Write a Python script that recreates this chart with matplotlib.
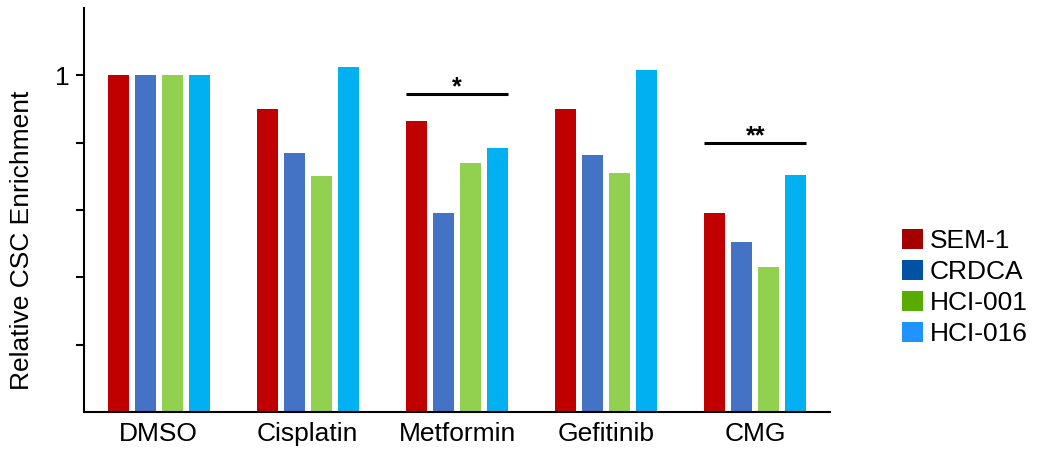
import matplotlib
matplotlib.use("Agg")
import matplotlib.pyplot as plt
from matplotlib.patches import Patch
import numpy as np

treatments = ["DMSO", "Cisplatin", "Metformin", "Gefitinib", "CMG"]
lines = ["SEM-1", "CRDCA", "HCI-001", "HCI-016"]

# relative CSC enrichment per cell line, normalised to DMSO
sem1 = [1.0, 0.90, 0.865, 0.90, 0.59]
crdca = [1.0, 0.77, 0.59, 0.765, 0.505]
hci001 = [1.0, 0.70, 0.74, 0.71, 0.43]
hci016 = [1.0, 1.025, 0.785, 1.015, 0.705]

bar_colors = ["#c00000", "#4472c4", "#92d050", "#00b0f0"]
legend_colors = ["#a50000", "#0052a5", "#5aab00", "#1f93ff"]

# significance brackets: (treatment index, bar height, label)
sig_marks = [(2, 0.946, "*"), (4, 0.80, "**")]

def plot_enrichment():
    plt.rcParams['font.family'] = ['Liberation Sans', 'DejaVu Sans']
    fig = plt.figure(figsize=(10.37, 4.53), dpi=100)
    ax = fig.add_axes([0.081, 0.0905, 0.7194, 0.8915])

    x = np.arange(len(treatments))
    pitch = 0.181
    width = 0.141
    series = [sem1, crdca, hci001, hci016]
    for i, (vals, col) in enumerate(zip(series, bar_colors)):
        ax.bar(x + (i - 1.5) * pitch, vals, width, color=col, edgecolor='none')

    # brackets span the outer edges of the group
    for idx, h, label in sig_marks:
        x0 = idx - 1.5 * pitch - width / 2
        x1 = idx + 1.5 * pitch + width / 2
        ax.plot([x0, x1], [h, h], color='black', linewidth=2.2, solid_capstyle='butt')
        ax.text(idx, h - 0.003, label, ha='center', va='baseline',
                fontsize=18, fontweight='bold')

    ax.set_xlim(-0.5, 4.5)
    ax.set_ylim(0, 1.2)
    ax.set_xticks(x)
    ax.set_xticklabels(treatments, fontsize=19)
    ax.set_yticks([0.2, 0.4, 0.6, 0.8, 1.0])
    ax.set_yticklabels(["", "", "", "", "1"], fontsize=19)
    ax.tick_params(axis='x', length=0, pad=7)
    ax.tick_params(axis='y', length=6, width=1.5, pad=4)
    for side in ['top', 'right']:
        ax.spines[side].set_visible(False)
    for side in ['left', 'bottom']:
        ax.spines[side].set_linewidth(1.5)

    fig.text(0.021, 0.47, "Relative CSC Enrichment", rotation=90,
             ha='center', va='center', fontsize=19)

    handles = [Patch(facecolor=c, edgecolor='none') for c in legend_colors]
    fig.legend(handles, lines, loc='center left', bbox_to_anchor=(0.870, 0.365),
               frameon=False, fontsize=19, handlelength=0.8, handleheight=0.8,
               handletextpad=0.25, labelspacing=0.25, borderpad=0, borderaxespad=0)

    fig.savefig("out.png", dpi=100)

if __name__ == "__main__":
    plot_enrichment()
